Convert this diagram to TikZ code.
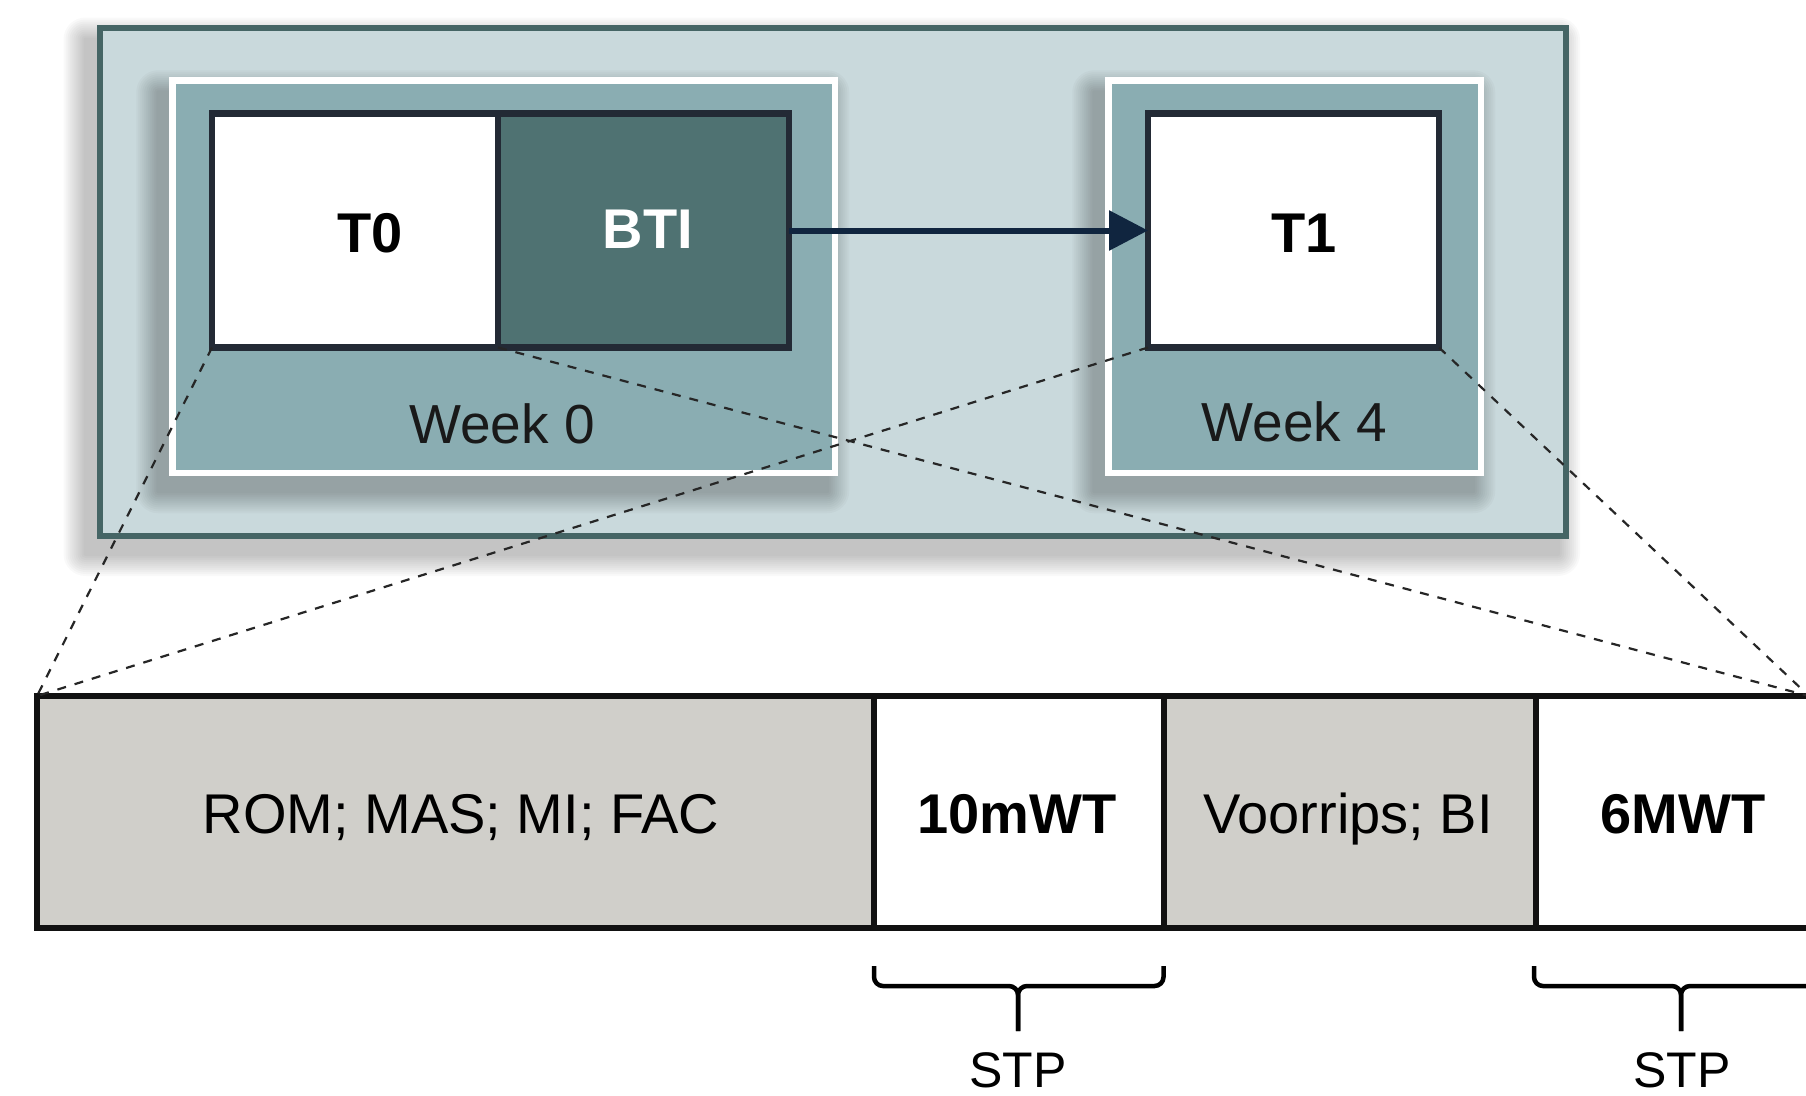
\documentclass[tikz,border=0pt]{standalone}
\usepackage{fontspec}
\setmainfont{Liberation Sans}
\usetikzlibrary{arrows.meta}
\definecolor{outerfill}{HTML}{C9D9DC}
\definecolor{outerline}{HTML}{456565}
\definecolor{weekfill}{HTML}{8AADB2}
\definecolor{innerline}{HTML}{232A35}
\definecolor{btifill}{HTML}{4F7272}
\definecolor{arrowcol}{HTML}{10253F}
\definecolor{rowgray}{HTML}{D0CFCA}
\definecolor{rowline}{HTML}{111111}
\newcommand{\fsz}[1]{\fontsize{#1}{#1}\selectfont}
% soft drop shadow made of stacked translucent rectangles
\newcommand{\boxshadow}[4]{%
  \foreach \i [evaluate=\i as \g using 2*\i] in {1,...,11}{%
    \fill[black, opacity=0.024, rounded corners=\g pt]
      (#1-11-\g, #2+15-\g) rectangle (#3-11+\g, #4+15+\g);}}
\begin{document}
\begin{tikzpicture}[x=1pt,y=-1pt,
  box/.style={rectangle, inner sep=0pt, outer sep=0pt, anchor=north west},
  outerbox/.style={box, draw=outerline, fill=outerfill, line width=6pt},
  weekbox/.style={box, draw=white, fill=weekfill, line width=6.5pt},
  innerbox/.style={box, draw=innerline, line width=6.5pt},
  rowcell/.style={box, draw=rowline, line width=6pt},
  zoomline/.style={dashed, dash pattern=on 9pt off 9pt, line width=2.2pt, black!85},
  bracestyle/.style={line width=4.5pt, black, rounded corners=9pt},
  lbl/.style={inner sep=0pt, outer sep=0pt, anchor=base}
]
\useasboundingbox (0,0) rectangle (1806,1095);
\clip (0,0) rectangle (1806,1095);

% top group
\boxshadow{96.5}{24.5}{1569}{539}
\node[outerbox, minimum width=1466.5pt, minimum height=508.5pt] (outer) at (99.5,27.5) {};
\boxshadow{169.25}{77.25}{838.25}{476.25}
\boxshadow{1105.25}{77.25}{1484.25}{476.25}
\node[weekbox, minimum width=662.5pt, minimum height=392.5pt] (w0) at (172.5,80.5) {};
\node[weekbox, minimum width=372.5pt, minimum height=392.5pt] (w4) at (1108.5,80.5) {};

\node[innerbox, fill=white, minimum width=286pt, minimum height=234pt] (t0) at (212,113.5) {};
\node[innerbox, fill=btifill, minimum width=291pt, minimum height=234pt] (bti) at (498,113.5) {};
\node[innerbox, fill=white, minimum width=291pt, minimum height=234pt] (t1) at (1148,113.5) {};

\node[lbl, font=\bfseries\fsz{56}] (t0txt) at (370,252) {T0};
\node[lbl, font=\bfseries\fsz{56}, text=white] (btitxt) at (648,248) {BTI};
\node[lbl, font=\bfseries\fsz{56}] (t1txt) at (1304,252) {T1};
\node[lbl, font=\fsz{55}, text=black!90] (w0txt) at (502,443) {Week 0};
\node[lbl, font=\fsz{55}, text=black!90] (w4txt) at (1294.5,441) {Week 4};

\draw[arrowcol, line width=6pt, -{Triangle[length=39pt,width=39pt]}] (bti.east) -- (t1.west);

% bottom row
\node[rowcell, fill=rowgray, minimum width=836.5pt, minimum height=232pt] (rom) at (37,696) {};
\node[rowcell, fill=white, minimum width=290pt, minimum height=232pt] (tenm) at (873.5,696) {};
\node[rowcell, fill=rowgray, minimum width=372.5pt, minimum height=232pt] (voor) at (1163.5,696) {};
\node[rowcell, fill=white, minimum width=273pt, minimum height=232pt] (six) at (1536,696) {};

\node[lbl, font=\fsz{56}] (romtxt) at (461,833) {ROM; MAS; MI; FAC};
\node[lbl, font=\bfseries\fsz{56}] (tenmtxt) at (1017,833) {10mWT};
\node[lbl, font=\fsz{56}] (voortxt) at (1348,833) {Voorrips; BI};
\node[lbl, font=\bfseries\fsz{56}] (sixtxt) at (1683,833) {6MWT};

% zoom lines
\draw[zoomline] (t0.south west) -- (rom.north west);
\draw[zoomline] (t1.south west) -- (rom.north west);
\draw[zoomline] (bti.south west) -- (six.north east);
\draw[zoomline] (t1.south east) -- (six.north east);

% braces
\coordinate (b1l) at (874,966);
\coordinate (b1r) at (1163.5,966);
\coordinate (b1t) at (1018,1031);
\draw[bracestyle] (b1l) -- (874,986) -- (1018,986) -- (b1t);
\draw[bracestyle] (b1r) -- (1163.5,986) -- (1018,986) -- (b1t);
\coordinate (b2l) at (1534,966);
\coordinate (b2r) at (1828,966);
\coordinate (b2t) at (1681,1031);
\draw[bracestyle] (b2l) -- (1534,986) -- (1681,986) -- (b2t);
\draw[bracestyle] (b2r) -- (1828,986) -- (1681,986) -- (b2t);

\node[lbl, font=\fsz{50}] (stp1) at (1018,1087) {STP};
\node[lbl, font=\fsz{50}] (stp2) at (1682,1087) {STP};
\end{tikzpicture}
\end{document}
